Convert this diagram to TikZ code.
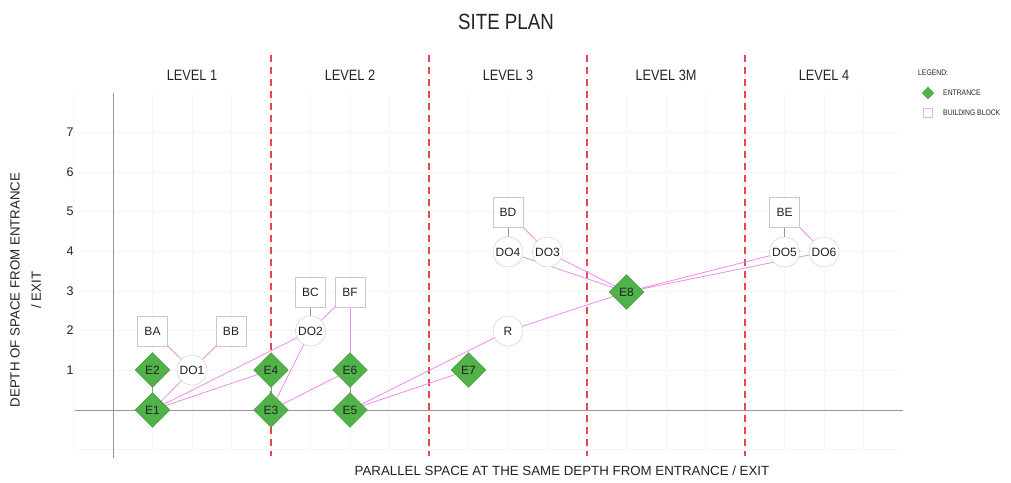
\documentclass[tikz,border=0pt]{standalone}
\usepackage{fontspec}
\setmainfont{Liberation Sans}
\newfontfamily\narrowfont[FakeStretch=0.85]{Liberation Sans}
\usetikzlibrary{shapes.geometric}
\pgfdeclarelayer{bg}
\pgfsetlayers{bg,main}
\definecolor{entgreen}{RGB}{80,178,72}
\definecolor{entborder}{RGB}{60,150,55}
\definecolor{linkpink}{RGB}{238,140,238}
\definecolor{levelred}{RGB}{232,70,80}
\definecolor{boxgray}{RGB}{200,200,200}
\definecolor{axisgray}{RGB}{150,150,150}
\definecolor{txt}{RGB}{35,35,35}
\tikzset{
  entr/.style={diamond,aspect=1,draw=entborder,fill=entgreen,inner sep=0pt,minimum width=35pt,minimum height=35pt,font=\fontsize{12}{12}\selectfont,text=txt},
  blk/.style={rectangle,draw=boxgray,fill=white,inner sep=0pt,minimum width=30pt,minimum height=30pt,font=\fontsize{12}{12}\selectfont,text=txt},
  dor/.style={circle,draw=boxgray,fill=white,inner sep=0pt,minimum size=30pt,font=\fontsize{12}{12}\selectfont,text=txt},
  link/.style={draw=linkpink,line width=0.8pt},
  glink/.style={draw=axisgray,line width=0.8pt},
  lvl/.style={color=levelred,line width=1.1pt,dash pattern=on 7pt off 5pt},
  lvllab/.style={font=\narrowfont\fontsize{15}{15}\selectfont,text=txt},
  ticklab/.style={font=\fontsize{12.5}{12.5}\selectfont,text=txt},
  axtitle/.style={font=\fontsize{13.3}{13.3}\selectfont,text=txt},
  leg/.style={font=\narrowfont\fontsize{8}{8}\selectfont,text=txt,anchor=west,inner sep=0pt}
}
\begin{document}
\begin{tikzpicture}[x=1pt,y=-1pt]
\useasboundingbox (0,0) rectangle (1011,482);
% title and labels
\node[font=\narrowfont\fontsize{22}{22}\selectfont,text=txt] (title) at (506,22) {SITE PLAN};
\node[lvllab] (l1) at (192,75) {LEVEL 1};
\node[lvllab] (l2) at (350,75) {LEVEL 2};
\node[lvllab] (l3) at (508,75) {LEVEL 3};
\node[lvllab] (l3m) at (666,75) {LEVEL 3M};
\node[lvllab] (l4) at (824,75) {LEVEL 4};
\foreach \j in {1,...,7} \node[ticklab] (t\j) at (70,{410-39.7*\j}) {\j};
\node[axtitle,rotate=90] (yt1) at (15,290) {DEPTH OF SPACE FROM ENTRANCE};
\node[axtitle,rotate=90] (yt2) at (36,290) {/ EXIT};
\node[axtitle] (xt) at (562,471) {PARALLEL SPACE AT THE SAME DEPTH FROM ENTRANCE / EXIT};
% legend
\node[leg] (lg) at (918,73) {LEGEND:};
\node[diamond,aspect=1,fill=entgreen,inner sep=0pt,minimum size=13pt] (lgd) at (928,93) {};
\node[leg] (lgdt) at (943,93) {ENTRANCE};
\node[rectangle,draw=boxgray,fill=white,inner sep=0pt,minimum size=9pt] (lgb) at (928,113) {};
\node[leg] (lgbt) at (943,113) {BUILDING BLOCK};
% nodes
\node[blk] (BA) at (152.5,331) {BA};
\node[blk] (BB) at (231,331) {BB};
\node[blk] (BC) at (310.5,292) {BC};
\node[blk] (BF) at (350,292) {BF};
\node[blk] (BD) at (508,212) {BD};
\node[blk] (BE) at (784.5,212) {BE};
\node[dor] (DO1) at (192,370) {DO1};
\node[dor] (DO2) at (310.5,331) {DO2};
\node[dor] (DO4) at (508,252) {DO4};
\node[dor] (DO3) at (547.5,252) {DO3};
\node[dor] (DO5) at (784.5,252) {DO5};
\node[dor] (DO6) at (824,252) {DO6};
\node[dor] (R) at (508,331) {R};
\node[entr] (E1) at (152.5,410) {E1};
\node[entr] (E2) at (152.5,370) {E2};
\node[entr] (E3) at (271,410) {E3};
\node[entr] (E4) at (271,370) {E4};
\node[entr] (E5) at (350,410) {E5};
\node[entr] (E6) at (350,370) {E6};
\node[entr] (E7) at (468.5,370) {E7};
\node[entr] (E8) at (626.5,292) {E8};
\begin{pgfonlayer}{bg}
\fill[white] (0,0) rectangle (1011,482);
% faint grid
\foreach \i in {-1,...,19} \draw[black!4,line width=0.5pt] ({113+39.5*\i},95) -- ({113+39.5*\i},452);
\foreach \j in {-1,...,7} \draw[black!4,line width=0.5pt] (80,{410-39.7*\j}) -- (900,{410-39.7*\j});
% axes
\draw[axisgray,line width=1pt] (75,410) -- (903,410);
\draw[axisgray,line width=1pt] (113,93) -- (113,458);
% level lines
\foreach \xx in {271,429,587,745} \draw[lvl] (\xx,55) -- (\xx,456);
% connectors
\draw[glink] (E1.center) -- (E2.center);
\draw[glink] (E3.center) -- (E4.center);
\draw[glink] (E5.center) -- (E6.center);
\draw[glink] (DO2.center) -- (BC.center);
\draw[glink] (DO4.center) -- (BD.center);
\draw[glink] (DO5.center) -- (BE.center);
\draw[link] (BA.center) -- (DO1.center);
\draw[link] (BB.center) -- (DO1.center);
\draw[link] (E1.center) -- (DO1.center);
\draw[link] (E1.center) -- (DO2.center);
\draw[link] (E1.center) -- (E4.center);
\draw[link] (E3.center) -- (DO2.center);
\draw[link] (DO2.center) -- (BF.center);
\draw[link] (BF.center) -- (E6.center);
\draw[link] (E3.center) -- (E6.center);
\draw[link] (E5.center) -- (E7.center);
\draw[link] (E5.center) -- (R.center);
\draw[link] (R.center) -- (E8.center);
\draw[link] (E8.center) -- (DO4.center);
\draw[link] (E8.center) -- (DO3.center);
\draw[link] (E8.center) -- (DO5.center);
\draw[link] (E8.center) -- (DO6.center);
\draw[link] (BD.center) -- (DO3.center);
\draw[link] (BE.center) -- (DO6.center);
\end{pgfonlayer}
\end{tikzpicture}
\end{document}
